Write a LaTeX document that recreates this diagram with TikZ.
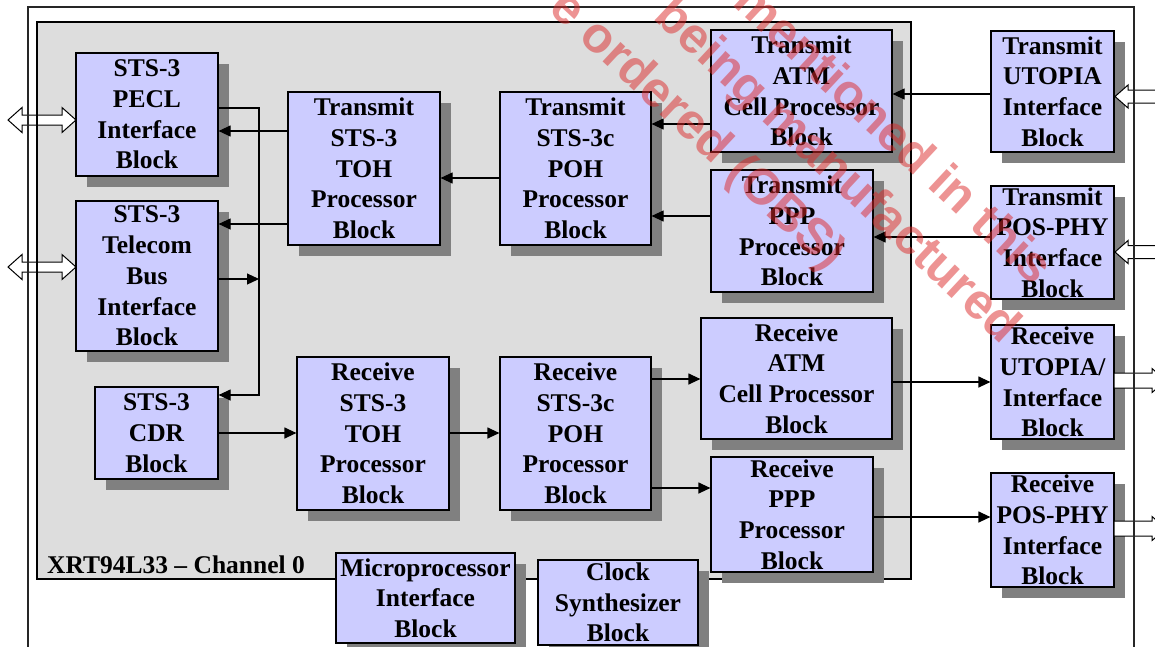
\documentclass[tikz,border=0pt]{standalone}
\usepackage{fontspec}
\setmainfont{Liberation Serif}
\newfontfamily\wmfont{Liberation Sans}
\usetikzlibrary{shadows,arrows.meta,calc}
\definecolor{blkfill}{RGB}{204,204,255}
\definecolor{chipgray}{RGB}{221,221,221}
\definecolor{shadowgray}{RGB}{128,128,128}
\definecolor{wmred}{RGB}{220,40,40}
\tikzset{
 blkbox/.style={draw=black, line width=1.2pt, fill=blkfill, inner sep=0pt,
   drop shadow={shadow xshift=11pt, shadow yshift=-11pt, fill=shadowgray, opacity=1}},
 blktxt/.style={font=\bfseries\fontsize{25.5}{30.7}\selectfont, align=center, inner sep=0pt},
 arr/.style={line width=1.2pt, -{Triangle[length=12pt,width=11pt]}},
 wire/.style={line width=1.2pt},
 hollow/.style={draw=black, line width=1pt, fill=white},
 wm/.style={font=\wmfont\bfseries\fontsize{50}{50}\selectfont, text=wmred, text opacity=0.5, inner sep=0pt, rotate=-43},
}
\newcommand\mkblk[6]{%
  \node[blkbox, minimum width={#4-#2}, minimum height={#5-#3}] (#1) at ({(#2+#4)/2},{(#3+#5)/2}) {};
  \node[blktxt] (#1-t) at (#1.center) {#6};
}
\begin{document}
\begin{tikzpicture}[x=1pt,y=-1pt]
\useasboundingbox (0,0) rectangle (1155,646);
\clip (0,0) rectangle (1155,646);
\fill[white] (0,0) rectangle (1155,646);
% chip area
\fill[chipgray] (37,22) rectangle (911,579);
% left bidirectional hollow arrows
\foreach \c in {120,267}{
  \draw[hollow] (8,\c) -- (22,\c-12.5) -- (22,\c-5) -- (62,\c-5) -- (62,\c-12.5) -- (76,\c)
     -- (62,\c+12.5) -- (62,\c+5) -- (22,\c+5) -- (22,\c+12.5) -- cycle;
}
\draw[line width=1.2pt] (37,22) rectangle (911,579);
% blocks
\mkblk{pecl}{76}{53}{218}{176}{STS-3\\PECL\\Interface\\Block}
\mkblk{tel}{76}{201}{218}{351}{STS-3\\Telecom\\Bus\\Interface\\Block}
\mkblk{cdr}{95}{387}{218}{479}{STS-3\\CDR\\Block}
\mkblk{ttoh}{288}{92}{440}{245}{Transmit\\STS-3\\TOH\\Processor\\Block}
\mkblk{tpoh}{500}{92}{651}{245}{Transmit\\STS-3c\\POH\\Processor\\Block}
\mkblk{tatm}{711}{30}{892}{152}{Transmit\\ATM\\Cell Processor\\Block}
\mkblk{tppp}{711}{170}{873}{292}{Transmit\\PPP\\Processor\\Block}
\mkblk{rtoh}{297}{357}{449}{510}{Receive\\STS-3\\TOH\\Processor\\Block}
\mkblk{rpoh}{500}{357}{651}{510}{Receive\\STS-3c\\POH\\Processor\\Block}
\mkblk{ratm}{701}{318}{892}{439}{Receive\\ATM\\Cell Processor\\Block}
\mkblk{rppp}{711}{457}{873}{572}{Receive\\PPP\\Processor\\Block}
\mkblk{micro}{336}{553}{515}{643}{Microprocessor\\Interface\\Block}
\mkblk{clk}{538}{560}{698}{645}{Clock\\Synthesizer\\Block}
\mkblk{tuto}{991}{31}{1114}{152}{Transmit\\UTOPIA\\Interface\\Block}
\mkblk{tpos}{991}{186}{1114}{299}{Transmit\\POS-PHY\\Interface\\Block}
\mkblk{ruto}{991}{325}{1114}{439}{Receive\\UTOPIA/\\Interface\\Block}
\mkblk{rpos}{991}{473}{1114}{587}{Receive\\POS-PHY\\Interface\\Block}
\node[blktxt, anchor=west] (title) at (47,565) {XRT94L33 \textendash{} Channel 0};
% right hollow arrows
\foreach \c in {96.5,252}{
  \draw[hollow] (1115,\c) -- (1128,\c-11.5) -- (1128,\c-6.5) -- (1165,\c-6.5) -- (1165,\c+6.5)
     -- (1128,\c+6.5) -- (1128,\c+11.5) -- cycle;
}
\foreach \c in {380.5,528.5}{
  \draw[hollow] (1114,\c-7.5) -- (1152,\c-7.5) -- (1152,\c-12) -- (1166,\c) -- (1152,\c+12)
     -- (1152,\c+7.5) -- (1114,\c+7.5) -- cycle;
}
\draw[line width=1.2pt, draw=black!85] (28,700) -- (28,7) -- (1134,7) -- (1134,700);
% connectors
\coordinate (bus) at (259,395);
\draw[arr] (tatm.west |- 0,124) -- (tpoh.east |- 0,124);
\draw[arr] (tppp.west |- 0,216) -- (tpoh.east |- 0,216);
\draw[arr] (tuto.west |- 0,94) -- (tatm.east |- 0,94);
\draw[arr] (tpos.west |- 0,237) -- (tppp.east |- 0,237);
\draw[arr] (tpoh.west |- 0,178) -- (ttoh.east |- 0,178);
\draw[arr] (ttoh.west |- 0,131) -- (pecl.east |- 0,131);
\draw[arr] (ttoh.west |- 0,224) -- (tel.east |- 0,224);
\draw[arr] (pecl.east |- 0,108) -| (bus) -- (cdr.east |- bus);
\draw[arr] (tel.east |- 0,279) -- (bus |- 0,279);
\draw[arr] (cdr.east |- 0,433) -- (rtoh.west |- 0,433);
\draw[arr] (rtoh.east |- 0,433) -- (rpoh.west |- 0,433);
\draw[arr] (rpoh.east |- 0,379) -- (ratm.west |- 0,379);
\draw[arr] (rpoh.east |- 0,488) -- (rppp.west |- 0,488);
\draw[arr] (ratm.east |- 0,382) -- (ruto.west |- 0,382);
\draw[arr] (rppp.east |- 0,517) -- (rpos.west |- 0,517);
% watermark
\node[wm, anchor=base east] (wm1) at (828,272) {e ordered (OBS)};
\node[wm, anchor=base east] (wm2) at (1002,345) {being manufactured};
\node[wm, anchor=base east] (wm3) at (1034,287) {mentioned in this};
\end{tikzpicture}
\end{document}
